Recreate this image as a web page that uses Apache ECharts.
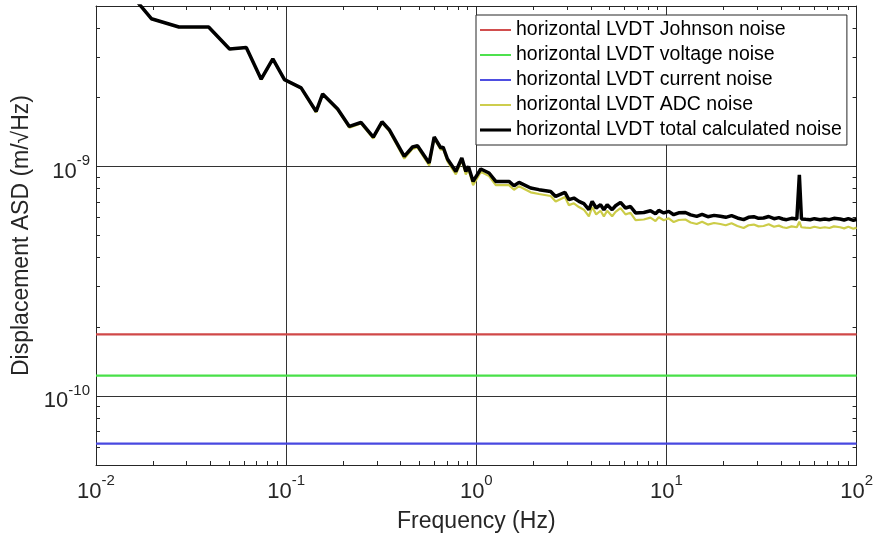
<!DOCTYPE html>
<html><head><meta charset="utf-8">
<script src="https://cdn.jsdelivr.net/npm/echarts@6/dist/echarts.min.js"></script>
<style>html,body{margin:0;padding:0;background:#fff}#c{width:876px;height:539px}</style>
</head><body><div id="c"></div>
<script>
// ---- data ----
const freq = [0.01, 0.01955, 0.0273, 0.0391, 0.0504, 0.0617, 0.0739, 0.0851, 0.098, 0.1199,
  0.1438, 0.1556, 0.1866, 0.2150, 0.2475, 0.2873, 0.3192, 0.3485, 0.418, 0.462,
  0.4908, 0.565, 0.6005, 0.651, 0.669, 0.7053, 0.7806, 0.8392, 0.881, 0.9089,
  0.9621, 1.056, 1.167, 1.266, 1.486, 1.579, 1.678, 1.932, 2.137, 2.461,
  2.615, 2.925, 3.070, 3.261, 3.465, 3.680, 3.909, 4.068, 4.270, 4.503,
  4.688, 4.879, 5.18, 5.40, 5.735, 6.09, 6.47, 6.88, 7.60, 8.24,
  8.76, 9.11, 9.68, 10.28, 10.92, 11.6, 12.58, 13.4, 14.43, 15.4,
  16.5, 17.8, 19.21, 20.5, 22.0, 23.6, 25.46, 27.0, 28.8, 30.5,
  32.4, 34.5, 36.8, 39.0, 40.9, 42.8, 45.5, 48.5, 50.0, 51.3,
  54, 57, 60, 64.3, 68, 72, 76, 81.9, 86, 90.5, 96.2, 100];
const totalNoise = [8.58e-9, 4.40e-9, 4.05e-9, 4.05e-9, 3.25e-9, 3.30e-9, 2.40e-9, 2.94e-9, 2.39e-9, 2.20e-9,
  1.736e-9, 2.07e-9, 1.778e-9, 1.494e-9, 1.554e-9, 1.343e-9, 1.565e-9, 1.445e-9, 1.105e-9, 1.215e-9,
  1.231e-9, 1.035e-9, 1.343e-9, 1.203e-9, 1.215e-9, 1.077e-9, 9.51e-10, 1.088e-9, 9.51e-10, 1.0e-9,
  8.60e-10, 9.74e-10, 9.36e-10, 8.60e-10, 8.60e-10, 8.24e-10, 8.52e-10, 8.05e-10, 7.92e-10, 7.78e-10,
  7.40e-10, 7.70e-10, 7.16e-10, 7.28e-10, 7.04e-10, 6.88e-10, 6.48e-10, 7.04e-10, 6.59e-10, 6.81e-10,
  6.48e-10, 6.81e-10, 6.48e-10, 6.74e-10, 6.97e-10, 6.59e-10, 6.69e-10, 6.27e-10, 6.30e-10, 6.41e-10,
  6.22e-10, 6.43e-10, 6.27e-10, 6.37e-10, 6.16e-10, 6.28e-10, 6.30e-10, 6.15e-10, 6.06e-10, 6.18e-10,
  6.04e-10, 6.12e-10, 6.06e-10, 6.00e-10, 6.10e-10, 5.96e-10, 5.86e-10, 6.00e-10, 6.04e-10, 5.94e-10,
  5.96e-10, 6.05e-10, 5.92e-10, 5.98e-10, 5.90e-10, 5.86e-10, 5.94e-10, 5.90e-10, 9.2e-10, 5.90e-10,
  5.88e-10, 5.86e-10, 5.92e-10, 5.86e-10, 5.90e-10, 5.86e-10, 5.94e-10, 5.90e-10, 5.84e-10, 5.92e-10,
  5.82e-10, 5.88e-10];
const adcNoise = [8.577e-9, 4.394e-9, 4.043e-9, 4.043e-9, 3.242e-9, 3.292e-9, 2.389e-9, 2.931e-9, 2.379e-9, 2.188e-9,
  1.721e-9, 2.057e-9, 1.763e-9, 1.476e-9, 1.537e-9, 1.323e-9, 1.548e-9, 1.427e-9, 1.081e-9, 1.193e-9,
  1.209e-9, 1.009e-9, 1.323e-9, 1.181e-9, 1.193e-9, 1.052e-9, 9.23e-10, 1.063e-9, 9.23e-10, 9.73e-10,
  8.29e-10, 9.47e-10, 9.07e-10, 8.29e-10, 8.29e-10, 7.91e-10, 8.20e-10, 7.71e-10, 7.58e-10, 7.43e-10,
  7.03e-10, 7.35e-10, 6.78e-10, 6.91e-10, 6.65e-10, 6.48e-10, 6.06e-10, 6.65e-10, 6.18e-10, 6.41e-10,
  6.06e-10, 6.41e-10, 6.06e-10, 6.34e-10, 6.58e-10, 6.18e-10, 6.28e-10, 5.83e-10, 5.87e-10, 5.98e-10,
  5.78e-10, 6.00e-10, 5.83e-10, 5.94e-10, 5.72e-10, 5.84e-10, 5.87e-10, 5.70e-10, 5.61e-10, 5.74e-10,
  5.58e-10, 5.67e-10, 5.61e-10, 5.54e-10, 5.65e-10, 5.50e-10, 5.39e-10, 5.54e-10, 5.58e-10, 5.48e-10,
  5.50e-10, 5.60e-10, 5.46e-10, 5.52e-10, 5.43e-10, 5.39e-10, 5.48e-10, 5.43e-10, 5.74e-10, 5.43e-10,
  5.41e-10, 5.39e-10, 5.46e-10, 5.39e-10, 5.43e-10, 5.39e-10, 5.48e-10, 5.43e-10, 5.37e-10, 5.46e-10,
  5.35e-10, 5.41e-10];
const johnsonLevel = 1.855e-10;
const voltageLevel = 1.226e-10;
const currentLevel = 6.20e-11;
const xRange = [0.01, 100];
const yRange = [5e-11, 5e-9];
const xLabelValues = [0.01, 0.1, 1, 10, 100];
const yLabelValues = [1e-10, 1e-9];
const seriesNames = ['horizontal LVDT Johnson noise', 'horizontal LVDT voltage noise',
  'horizontal LVDT current noise', 'horizontal LVDT ADC noise', 'horizontal LVDT total calculated noise'];
const seriesColors = ['#d04848', '#48e048', '#4848e0', '#cccc48', '#000000'];
const seriesWidths = [2.2, 2.2, 2.2, 2.2, 3.5];

// ---- helpers ----
const FONT = '"Liberation Sans", Arial, Helvetica, sans-serif';
const AX = '#262626';
function logTicks(lo, hi) {
  const out = [];
  for (let e = Math.floor(Math.log10(lo)); e <= Math.ceil(Math.log10(hi)); e++) {
    for (let m = 1; m <= 9; m++) {
      const v = Number((m * Math.pow(10, e)).toPrecision(6));
      if (v >= lo * 0.99999 && v <= hi * 1.00001) out.push(v);
    }
  }
  return out;
}
const xTickValues = logTicks(xRange[0], xRange[1]);
const yTickValues = logTicks(yRange[0], yRange[1]);
function expLabel(v) {
  const l = Math.log10(v), e = Math.round(l);
  if (Math.abs(l - e) > 1e-6) return '';
  return '{b|10}{s|' + e + '}';
}
const rich = {
  b: { fontSize: 22, lineHeight: 22, padding: [11, 0, 0, 0], verticalAlign: 'middle', fontFamily: FONT, color: AX },
  s: { fontSize: 15, lineHeight: 15, padding: [0, 0, 11, 0], verticalAlign: 'middle', fontFamily: FONT, color: AX }
};
function tickAxis(pos, range, ticks, showLine) {
  return {
    type: 'log', logBase: 10, min: range[0], max: range[1], position: pos,
    axisLine: { show: showLine, onZero: false, lineStyle: { color: AX, width: 1 } },
    axisTick: { show: true, inside: true, length: 4, customValues: ticks, lineStyle: { color: AX, width: 1 } },
    axisLabel: { show: false }, splitLine: { show: false }, minorTick: { show: false }
  };
}

const chart = echarts.init(document.getElementById('c'), null, { renderer: 'canvas' });
const lineSeries = (i, data) => ({
  name: seriesNames[i], type: 'line', data, xAxisIndex: 0, yAxisIndex: 0,
  symbol: 'none', showSymbol: false, silent: true, clip: true,
  lineStyle: { color: seriesColors[i], width: seriesWidths[i] }, itemStyle: { color: seriesColors[i] }
});
chart.setOption({
  animation: false,
  backgroundColor: '#ffffff',
  grid: { left: 96, right: 18, top: 6, bottom: 74, containLabel: false },
  xAxis: [
    {
      type: 'log', logBase: 10, min: xRange[0], max: xRange[1], position: 'bottom',
      name: 'Frequency (Hz)', nameLocation: 'middle', nameGap: 45,
      nameTextStyle: { fontSize: 23, fontFamily: FONT, color: AX },
      axisLine: { show: true, onZero: false, lineStyle: { color: AX, width: 1 } },
      axisTick: { show: false },
      axisLabel: { customValues: xLabelValues, formatter: expLabel, margin: 10, fontSize: 22, fontFamily: FONT, color: AX, rich },
      splitLine: { show: true, lineStyle: { color: '#333333', width: 1 } },
      minorTick: { show: false }
    },
    tickAxis('bottom', xRange, xTickValues, false),
    tickAxis('top', xRange, xTickValues, true)
  ],
  yAxis: [
    {
      type: 'log', logBase: 10, min: yRange[0], max: yRange[1], position: 'left',
      name: 'Displacement ASD (m/\u221AHz)', nameLocation: 'middle', nameGap: 60,
      nameTextStyle: { fontSize: 23, fontFamily: FONT, color: AX },
      axisLine: { show: true, onZero: false, lineStyle: { color: AX, width: 1 } },
      axisTick: { show: false },
      axisLabel: { customValues: yLabelValues, formatter: expLabel, margin: 6, fontSize: 22, fontFamily: FONT, color: AX, rich },
      splitLine: { show: true, lineStyle: { color: '#333333', width: 1 } },
      minorTick: { show: false }
    },
    tickAxis('left', yRange, yTickValues, false),
    tickAxis('right', yRange, yTickValues, true)
  ],
  legend: {
    orient: 'vertical', left: 476, top: 15,
    padding: [5, 5, 5, 4], itemWidth: 31, itemHeight: 20, itemGap: 5,
    symbolKeepAspect: true,
    backgroundColor: '#ffffff', borderColor: AX, borderWidth: 1, borderRadius: 0,
    textStyle: { fontSize: 19.5, lineHeight: 20, fontFamily: FONT, color: '#000' },
    data: seriesNames.map((n, i) => ({
      name: n,
      icon: 'path://M0,0h30v' + (seriesWidths[i] * 0.85) + 'h-30z',
      itemStyle: { color: seriesColors[i], borderWidth: 0 }
    }))
  },
  series: [
    lineSeries(0, [[xRange[0], johnsonLevel], [xRange[1], johnsonLevel]]),
    lineSeries(1, [[xRange[0], voltageLevel], [xRange[1], voltageLevel]]),
    lineSeries(2, [[xRange[0], currentLevel], [xRange[1], currentLevel]]),
    lineSeries(3, freq.map((f, i) => [f, adcNoise[i]])),
    lineSeries(4, freq.map((f, i) => [f, totalNoise[i]]))
  ]
});
</script></body></html>
